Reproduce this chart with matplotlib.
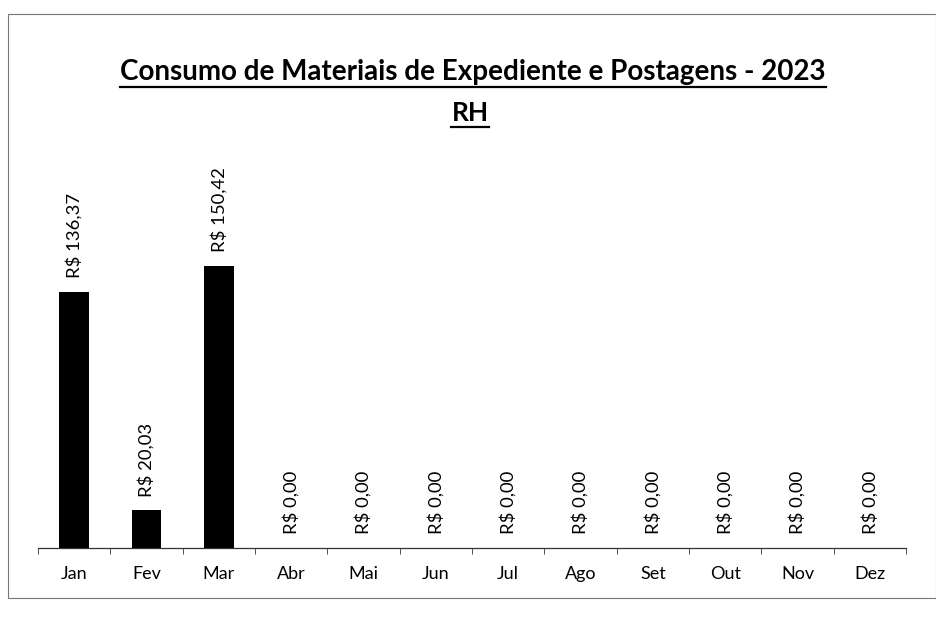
import matplotlib.pyplot as plt
from matplotlib.lines import Line2D
from matplotlib.patches import Rectangle
import numpy as np

meses = ["Jan", "Fev", "Mar", "Abr", "Mai", "Jun",
         "Jul", "Ago", "Set", "Out", "Nov", "Dez"]
valores = [136.37, 20.03, 150.42, 0, 0, 0, 0, 0, 0, 0, 0, 0]
titulo = "Consumo de Materiais de Expediente e Postagens - 2023"
subtitulo = "RH"

plt.rcParams['font.family'] = ['Lato', 'DejaVu Sans']

fig = plt.figure(figsize=(9.36, 6.22), dpi=100)
W, H = 936, 622

# frame of the chart area (as in the scanned Excel chart)
fig.patches.append(Rectangle((8 / W, 24 / H), 928 / W, 584 / H,
                             transform=fig.transFigure, fill=False,
                             edgecolor="#777777", linewidth=0.8))

ax = fig.add_axes([38 / W, (H - 548) / H, 868 / W, 398 / H])
x = np.arange(len(meses))
ax.bar(x, valores, width=0.41, color="black")
ax.set_xlim(-0.5, len(meses) - 0.5)
ax.set_ylim(0, 212)

for xi, v in zip(x, valores):
    txt = "R$ " + f"{v:.2f}".replace(".", ",")
    ax.annotate(txt, (xi, v), xytext=(0, 10), textcoords="offset points",
                rotation=90, ha="center", va="bottom", fontsize=13.3)

for s in ["top", "right", "left"]:
    ax.spines[s].set_visible(False)
ax.spines["bottom"].set_color("#333333")
ax.spines["bottom"].set_linewidth(0.9)
ax.set_yticks([])
ax.set_xticks(x)
ax.set_xticklabels(meses, fontsize=13)
ax.tick_params(axis="x", which="major", length=0, pad=13)
ax.set_xticks(np.arange(-0.5, len(meses)), minor=True)
ax.tick_params(axis="x", which="minor", length=4, color="#333333")

t1 = fig.text(473 / W, 1 - 72 / H, titulo, ha="center", va="center",
              fontsize=20, fontweight="bold")
t2 = fig.text(470 / W, 1 - 113 / H, subtitulo, ha="center", va="center",
              fontsize=19, fontweight="bold")

# underline the titles
fig.canvas.draw()
r = fig.canvas.get_renderer()
for t in (t1, t2):
    bb = t.get_window_extent(r)
    y = (bb.y0 - 2) / H
    fig.add_artist(Line2D([bb.x0 / W, bb.x1 / W], [y, y],
                          transform=fig.transFigure, color="black", linewidth=1.6))

fig.savefig("out.png", dpi=100)
